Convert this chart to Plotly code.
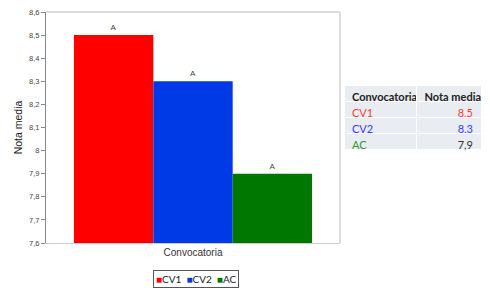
import plotly.graph_objects as go

categories = ["CV1", "CV2", "AC"]
values = [8.5, 8.3, 7.9]
letters = ["A", "A", "A"]
group_label = "Convocatoria"
bar_colors = ["#FF0000", "#0039E6", "#007800"]
text_colors = ["#FF3B3B", "#3B3BFF", "#2E9A2E"]
value_colors = ["#FF3B3B", "#3B3BFF", "#333333"]
value_labels = ["8,5", "8,3", "7,9"]
table_header = ["Convocatoria", "Nota\u00a0media"]
y_ticks = [7.6, 7.7, 7.8, 7.9, 8.0, 8.1, 8.2, 8.3, 8.4, 8.5, 8.6]
y_tick_labels = ["7,6", "7,7", "7,8", "7,9", "8", "8,1", "8,2", "8,3", "8,4", "8,5", "8,6"]

W, H = 500, 290
OFF = 8  # page body margin


def fx(px):
    return (px - OFF) / W


def fy(py):
    return 1 - (py - OFF) / H


fig = go.Figure()
for cat, val, let, col in zip(categories, values, letters, bar_colors):
    fig.add_trace(go.Bar(
        x=[group_label], y=[val], name=cat,
        marker=dict(color=col, line=dict(width=0)),
        text=[let], textposition="outside",
        textfont=dict(size=8, color="#444444", family="Liberation Sans"),
        cliponaxis=False, showlegend=False,
    ))

fig.add_trace(go.Table(
    domain=dict(x=[fx(344), fx(482)], y=[fy(200), fy(85)]),
    columnwidth=[73, 65],
    header=dict(
        values=table_header,
        fill_color="#E9ECF1",
        line=dict(color="white", width=1),
        align=["left", "left"],
        font=dict(family="Lato", size=11, color="#222222", weight="bold"),
        height=16,
    ),
    cells=dict(
        values=[categories, value_labels],
        fill_color="#E9ECF1",
        line=dict(color="white", width=1),
        align=["left", "right"],
        font=dict(family="Lato", size=11,
                  color=[text_colors, value_colors]),
        height=16,
    ),
))

legend_text = "&nbsp;&nbsp;".join(
    "<span style='color:%s'>■</span>%s" % (c, n)
    for c, n in zip(bar_colors, categories)
)

fig.update_layout(
    width=W, height=H,
    margin=dict(l=0, r=0, t=0, b=0),
    paper_bgcolor="white", plot_bgcolor="white",
    barmode="group", bargap=0.19, bargroupgap=0,
    showlegend=False,
    xaxis=dict(
        domain=[fx(46), fx(340)], automargin=False,
        showline=True, linecolor="#CCCCCC", linewidth=1,
        ticks="", showgrid=False,
        tickfont=dict(family="Liberation Sans", size=10, color="#333333"),
    ),
    yaxis=dict(
        domain=[fy(243), fy(12)], automargin=False,
        range=[7.6, 8.6],
        tickmode="array", tickvals=y_ticks, ticktext=y_tick_labels,
        ticklabeloverflow="allow",
        showline=True, linecolor="#888888", linewidth=1,
        ticks="outside", ticklen=4, tickcolor="#888888",
        showgrid=False, zeroline=False,
        tickfont=dict(family="Liberation Sans", size=7.5, color="#444444"),
        title=dict(text="Nota media", standoff=4,
                   font=dict(family="Liberation Sans", size=10.5, color="#222222")),
    ),
    annotations=[
        dict(text=legend_text, xref="paper", yref="paper",
             x=fx(196), y=fy(278.5), xanchor="center", yanchor="middle",
             showarrow=False, bordercolor="#555555", borderwidth=1,
             borderpad=2, bgcolor="white",
             font=dict(family="Lato", size=10, color="#222222")),
    ],
    shapes=[
        dict(type="line", xref="paper", yref="paper",
             x0=fx(46), x1=fx(340), y0=fy(12), y1=fy(12),
             line=dict(color="#DDDDDD", width=2)),
        dict(type="line", xref="paper", yref="paper",
             x0=fx(340), x1=fx(340), y0=fy(243), y1=fy(12),
             line=dict(color="#DDDDDD", width=2)),
    ],
)

fig.write_html("out.html")
